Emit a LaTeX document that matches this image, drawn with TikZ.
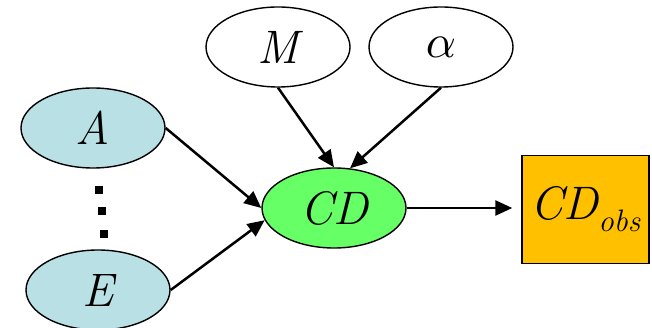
\documentclass[tikz,border=0pt]{standalone}
\usepackage{graphicx}
\usetikzlibrary{shapes.geometric,arrows.meta}
\definecolor{lblue}{RGB}{185,224,228}
\definecolor{lgreen}{RGB}{102,255,102}
\definecolor{gold}{RGB}{255,192,0}
\tikzset{
  varnode/.style={ellipse, draw=black, line width=1.4pt, minimum width=144pt, minimum height=80pt, inner sep=0pt,
    font=\fontsize{47}{52}\selectfont\itshape},
  obsnode/.style={rectangle, draw=black, line width=1.4pt, fill=gold, minimum width=127pt, minimum height=108pt, inner sep=0pt,
    font=\fontsize{47}{52}\selectfont\itshape},
  dotsq/.style={rectangle, fill=black, minimum size=8pt, inner sep=0pt},
  edge/.style={line width=2.5pt, -{Triangle[length=17pt,width=15pt]}},
}
\begin{document}
\begin{tikzpicture}[x=1pt,y=-1pt]
\useasboundingbox (0,0) rectangle (652,328);
\node[varnode, fill=lblue] (A) at (93,128) {A};
\node[varnode, fill=lblue] (E) at (98,290) {E};
\node[varnode, fill=lgreen] (CD) at (334,208) {CD};
\node[varnode, fill=white] (M) at (278,47) {M};
\node[varnode, fill=white] (al) at (441,47) {\scalebox{4.7}{\fontsize{10}{12}\selectfont$\alpha$}};
\node[obsnode] (obs) at (585.5,209.5) {CD\raisebox{-12pt}{\fontsize{31}{34}\selectfont obs}};
\node[dotsq] (d1) at (98.5,190.5) {};
\node[dotsq] (d2) at (101.5,211) {};
\node[dotsq] (d3) at (103.5,234) {};
\draw[edge] (A.east) -- (CD.west);
\draw[edge] (E.east) -- (CD.190);
\draw[edge] (M.south) -- (CD.north);
\draw[edge] (al.south) -- (CD.68);
\draw[edge, shorten >=9pt] (CD.east) -- (obs.west |- CD.east);
\end{tikzpicture}
\end{document}
